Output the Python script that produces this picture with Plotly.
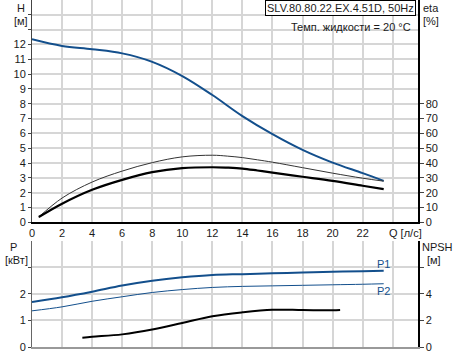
import plotly.graph_objects as go

# ---- data ----
q_h = [0, 2, 4, 6, 8, 10, 12, 14, 16, 18, 20, 22, 23.4]
h = [12.35, 11.9, 11.68, 11.4, 10.83, 9.87, 8.59, 7.17, 5.95, 4.89, 4.03, 3.32, 2.8]

q_eta = [0.45, 2, 4, 6, 8, 10, 12, 13, 14, 15, 16, 18, 20, 22, 23.4]
eta_thin = [3.6, 16.4, 27.2, 34.6, 40.3, 44.2, 45.3, 44.7, 43.7, 42.2, 40.6, 36.9, 33.2, 29.8, 27.8]
eta_thick = [3.6, 12.6, 22.0, 28.7, 33.9, 36.6, 37.2, 36.9, 36.3, 35.0, 33.6, 30.8, 28.0, 24.7, 22.4]

q_p = [0, 2, 4, 6, 8, 10, 12, 14, 16, 18, 20, 22, 23.4]
p1 = [1.69, 1.87, 2.08, 2.31, 2.49, 2.62, 2.71, 2.74, 2.77, 2.80, 2.83, 2.85, 2.87]
p2 = [1.36, 1.51, 1.72, 1.89, 2.05, 2.16, 2.24, 2.28, 2.30, 2.32, 2.34, 2.36, 2.38]

q_npsh = [3.35, 4, 6, 8, 10, 12, 14, 16, 18, 20, 20.5]
npsh = [0.7, 0.77, 0.95, 1.31, 1.81, 2.32, 2.61, 2.8, 2.78, 2.76, 2.78]

x_ticks = list(range(0, 24, 2))
h_ticks = list(range(0, 15))
eta_ticks = list(range(0, 90, 10))
p_ticks = [0, 1, 2, 3]
npsh_ticks = [0, 2, 4, 6]

title_text = "SLV.80.80.22.EX.4.51D, 50Hz"
temp_text = "Темп. жидкости = 20 °C"

BLUE = "#134f8c"
GRID = "#d6d6d6"
FONT = "Liberation Sans, Arial, sans-serif"
TXT = "#1a1a1a"

W, H = 458, 356
L, R, T, B = 32, 40, 0, 8.5
PW = W - L - R
PH = H - T - B


def px(xp):
    return (xp - L) / PW


def py(yp):
    return (PH - (yp - T)) / PH


top_dom = [py(222.7), 1]
bot_dom = [0, py(241)]

fig = go.Figure()
fig.add_trace(go.Scatter(x=q_h, y=h, mode="lines", line=dict(color=BLUE, width=2, shape="spline"),
                         xaxis="x", yaxis="y", hoverinfo="skip"))
fig.add_trace(go.Scatter(x=q_eta, y=eta_thin, mode="lines", line=dict(color="#333333", width=1, shape="spline"),
                         xaxis="x", yaxis="y2", hoverinfo="skip"))
fig.add_trace(go.Scatter(x=q_eta, y=eta_thick, mode="lines", line=dict(color="#000000", width=2.2, shape="spline"),
                         xaxis="x", yaxis="y2", hoverinfo="skip"))
fig.add_trace(go.Scatter(x=q_p, y=p1, mode="lines", line=dict(color=BLUE, width=2, shape="spline"),
                         xaxis="x2", yaxis="y3", hoverinfo="skip"))
fig.add_trace(go.Scatter(x=q_p, y=p2, mode="lines", line=dict(color=BLUE, width=1, shape="spline"),
                         xaxis="x2", yaxis="y3", hoverinfo="skip"))
fig.add_trace(go.Scatter(x=q_npsh, y=npsh, mode="lines", line=dict(color="#000000", width=2, shape="spline"),
                         xaxis="x2", yaxis="y4", hoverinfo="skip"))

xr = [0, PW / 15.03]
tickfont = dict(family=FONT, size=11, color=TXT)

fig.update_layout(
    width=W, height=H, margin=dict(l=L, r=R, t=T, b=B),
    paper_bgcolor="white", plot_bgcolor="white", showlegend=False,
    font=dict(family=FONT, size=11, color=TXT),
    xaxis=dict(domain=[0, 1], range=xr, anchor="y", tickvals=x_ticks, ticktext=[str(v) for v in x_ticks],
               showgrid=True, gridcolor=GRID, gridwidth=2, showline=True, linecolor="#000", linewidth=1.5,
               ticks="", tickfont=tickfont, zeroline=False,
               minor=dict(tickvals=[24], showgrid=True, gridcolor=GRID, gridwidth=2, ticks="")),
    yaxis=dict(domain=top_dom, range=[0, 15], anchor="x", tickvals=h_ticks,
               ticktext=[str(v) if v <= 12 else "" for v in h_ticks],
               showgrid=True, gridcolor=GRID, gridwidth=2, showline=True, linecolor="#444", linewidth=1,
               ticks="outside", ticklen=3, tickcolor="#444", tickfont=tickfont, zeroline=False),
    yaxis2=dict(overlaying="y", side="right", range=[0, 150], anchor="x", tickvals=eta_ticks,
                showgrid=False, showline=True, linecolor="#000", linewidth=1.5,
                ticks="outside", ticklen=4, tickcolor="#444", tickfont=tickfont, zeroline=False),
    xaxis2=dict(domain=[0, 1], range=xr, anchor="y3", tickvals=x_ticks + [24], showticklabels=False,
                showgrid=True, gridcolor=GRID, gridwidth=2, showline=True, linecolor="#999", linewidth=2,
                ticks="", zeroline=False),
    yaxis3=dict(domain=bot_dom, range=[0, 4], anchor="x2", tickvals=p_ticks,
                ticktext=["0", "1", "2", ""],
                showgrid=True, gridcolor=GRID, gridwidth=2, showline=True, linecolor="#666", linewidth=1,
                ticks="outside", ticklen=3, tickcolor="#444", tickfont=tickfont, zeroline=False),
    yaxis4=dict(overlaying="y3", side="right", range=[0, 8], anchor="x2", tickvals=npsh_ticks,
                ticktext=["0", "2", "4", ""],
                showgrid=False, showline=True, linecolor="#000", linewidth=1.5,
                ticks="outside", ticklen=4, tickcolor="#444", tickfont=tickfont, zeroline=False),
)

ann = []


def label(text, xp, yp, xanchor="center", yanchor="middle", color=TXT):
    ann.append(dict(text=text, x=px(xp), y=py(yp), xref="paper", yref="paper", showarrow=False,
                    xanchor=xanchor, yanchor=yanchor, font=dict(family=FONT, size=11, color=color)))


label("H", 21, 8)
label("[м]", 21, 21)
label("eta", 431, 8)
label("[%]", 431, 21)
label("Q [л/с]", 387, 233, xanchor="left")
label("P", 13, 247)
label("[кВт]", 16, 260)
label("NPSH", 437, 247)
label("[м]", 434, 260)
label("P1", 383, 264.5, color=BLUE)
label("P2", 383, 291, color=BLUE)
label(temp_text, 413, 27, xanchor="right")
ann.append(dict(text=title_text, x=px(416), y=py(0), xref="paper", yref="paper", showarrow=False,
                xanchor="right", yanchor="top", bgcolor="white", bordercolor="#000", borderwidth=1,
                borderpad=1, font=dict(family=FONT, size=11, color=TXT)))
fig.update_layout(annotations=ann)

fig.write_html("out.html", config={"displayModeBar": False, "staticPlot": True},
               post_script="document.body.style.margin='0px';document.body.style.padding='0px';")
